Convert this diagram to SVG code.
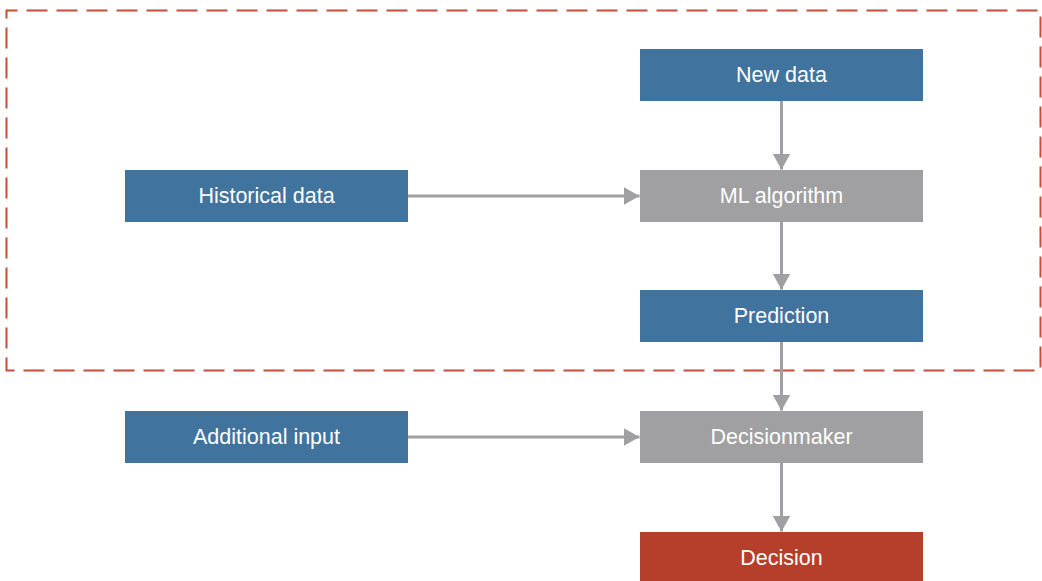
<svg xmlns="http://www.w3.org/2000/svg" width="1042" height="581" viewBox="0 0 1042 581">
  <style>
    .box { stroke: none; }
    .blue { fill: #41739f; }
    .grey { fill: #a09fa1; }
    .red { fill: #b53f2a; }
    .label { font-family: "Liberation Sans", Arial, sans-serif; font-size: 21.5px; fill: #ffffff; text-anchor: middle; dominant-baseline: central; }
    .conn { stroke: #a09fa1; stroke-width: 3; fill: none; }
    .scope { fill: none; stroke: #c0503a; stroke-width: 2; stroke-dasharray: 21 9; }
  </style>
  <defs>
    <marker id="head" viewBox="0 0 16 18" refX="16" refY="9" markerWidth="16" markerHeight="18" markerUnits="userSpaceOnUse" orient="auto">
      <path d="M0,0 L16,9 L0,18 Z" fill="#a09fa1"/>
    </marker>
  </defs>

  <rect fill="#ffffff" x="0" y="0" width="1042" height="581"/>

  <!-- dashed boundary around the model part -->
  <rect class="scope" x="6.5" y="10.5" width="1034" height="360" stroke-dashoffset="10"/>

  <!-- connectors -->
  <g id="connectors">
    <line class="conn" x1="781.5" y1="101" x2="781.5" y2="169.5" marker-end="url(#head)"/>
    <line class="conn" x1="408" y1="196" x2="639.5" y2="196" marker-end="url(#head)"/>
    <line class="conn" x1="781.5" y1="222" x2="781.5" y2="289.5" marker-end="url(#head)"/>
    <line class="conn" x1="781.5" y1="342" x2="781.5" y2="410.5" marker-end="url(#head)"/>
    <line class="conn" x1="408" y1="437" x2="639.5" y2="437" marker-end="url(#head)"/>
    <line class="conn" x1="781.5" y1="463" x2="781.5" y2="531.5" marker-end="url(#head)"/>
  </g>

  <g id="new-data">
    <rect class="box blue" x="640" y="49" width="283" height="52"/>
    <text class="label" x="781.5" y="75">New data</text>
  </g>
  <g id="historical-data">
    <rect class="box blue" x="125" y="170" width="283" height="52"/>
    <text class="label" x="266.5" y="196">Historical data</text>
  </g>
  <g id="ml-algorithm">
    <rect class="box grey" x="640" y="170" width="283" height="52"/>
    <text class="label" x="781.5" y="196">ML algorithm</text>
  </g>
  <g id="prediction">
    <rect class="box blue" x="640" y="290" width="283" height="52"/>
    <text class="label" x="781.5" y="316">Prediction</text>
  </g>
  <g id="additional-input">
    <rect class="box blue" x="125" y="411" width="283" height="52"/>
    <text class="label" x="266.5" y="437">Additional input</text>
  </g>
  <g id="decisionmaker">
    <rect class="box grey" x="640" y="411" width="283" height="52"/>
    <text class="label" x="781.5" y="437">Decisionmaker</text>
  </g>
  <g id="decision">
    <rect class="box red" x="640" y="532" width="283" height="52"/>
    <text class="label" x="781.5" y="558">Decision</text>
  </g>
</svg>
